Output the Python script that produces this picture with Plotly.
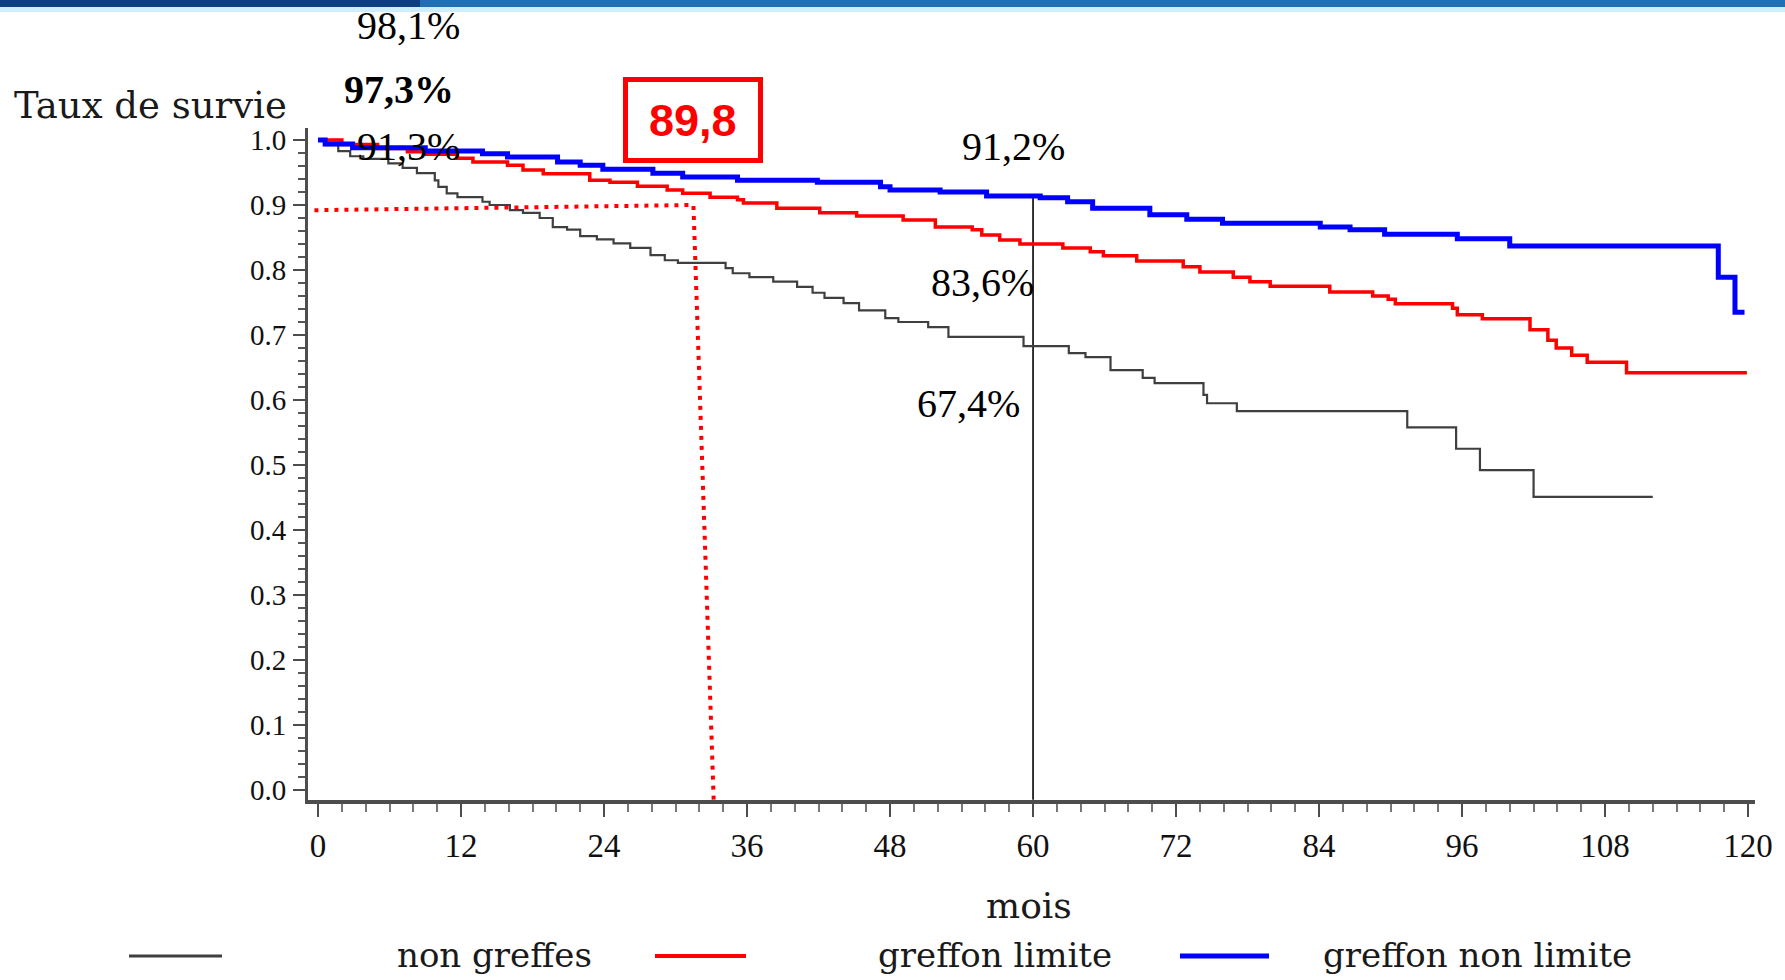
import plotly.graph_objects as go

# ---------------- data ----------------
gray_t = [0, 0.6, 1.7, 2.7, 3.8, 5.9, 7.1, 8.3, 9.8, 10.1, 10.8, 11.7, 13.8, 14.4, 16.1, 17.2, 18.6, 19.7,
          20.9, 22.0, 23.4, 24.8, 26.2, 27.9, 29.1, 30.2, 34.2, 34.8, 36.2, 38.2, 40.2, 41.5, 42.5, 44.1,
          45.4, 47.6, 48.7, 51.2, 52.9, 59.2, 63.0, 64.4, 66.5, 69.2, 70.2, 74.3, 74.6, 77.1, 91.4, 95.5,
          97.5, 102.0, 112.0]
gray_s = [1.0, 0.992, 0.983, 0.975, 0.971, 0.964, 0.957, 0.949, 0.938, 0.928, 0.918, 0.912, 0.905, 0.900,
          0.892, 0.888, 0.880, 0.866, 0.862, 0.852, 0.847, 0.841, 0.834, 0.823, 0.815, 0.811, 0.803, 0.795,
          0.789, 0.782, 0.774, 0.765, 0.757, 0.749, 0.738, 0.726, 0.720, 0.712, 0.697, 0.683, 0.672, 0.666,
          0.646, 0.634, 0.626, 0.608, 0.595, 0.583, 0.558, 0.525, 0.492, 0.451, 0.451]

red_t = [0, 2.0, 5.0, 7.5, 9.1, 11.7, 13.0, 15.9, 17.2, 18.9, 22.8, 24.5, 26.8, 29.3, 30.6, 32.9, 35.2,
         35.7, 38.5, 42.1, 45.2, 49.1, 51.8, 54.9, 55.7, 57.2, 58.9, 62.5, 64.8, 65.9, 68.7, 72.6, 74.0,
         76.8, 78.2, 79.9, 84.9, 88.5, 89.8, 90.4, 95.2, 95.6, 97.7, 101.7, 103.2, 103.9, 105.2, 106.5,
         109.8, 119.9]
red_s = [1.0, 0.993, 0.987, 0.982, 0.978, 0.972, 0.966, 0.961, 0.954, 0.948, 0.938, 0.935, 0.929, 0.923,
         0.918, 0.912, 0.908, 0.903, 0.895, 0.888, 0.883, 0.877, 0.866, 0.862, 0.854, 0.846, 0.840, 0.834,
         0.828, 0.822, 0.814, 0.805, 0.797, 0.789, 0.782, 0.775, 0.766, 0.760, 0.755, 0.748, 0.741, 0.731,
         0.725, 0.708, 0.692, 0.680, 0.669, 0.658, 0.642, 0.642]

blue_t = [0, 0.6, 2.9, 9.0, 13.8, 15.9, 20.1, 22.0, 23.9, 28.1, 30.6, 35.2, 41.9, 47.2, 48.0, 52.2, 56.1,
          60.6, 62.9, 65.0, 69.8, 72.9, 75.9, 84.1, 86.6, 89.5, 95.6, 100.0, 117.5, 118.9, 119.7]
blue_s = [1.0, 0.994, 0.988, 0.983, 0.979, 0.974, 0.966, 0.961, 0.955, 0.949, 0.943, 0.938, 0.935, 0.928,
          0.923, 0.920, 0.914, 0.911, 0.905, 0.895, 0.885, 0.878, 0.872, 0.866, 0.862, 0.855, 0.848, 0.837,
          0.789, 0.735, 0.735]

series_names = ["non greffes", "greffon limite", "greffon non limite"]

# reference lines
guide_x = [-0.3, 31.5, 33.2]
guide_y = [0.892, 0.900, -0.015]
marker60_x = [60, 60]
marker60_y = [0.912, -0.015]

x_ticks = [0, 12, 24, 36, 48, 60, 72, 84, 96, 108, 120]
y_ticks = [0.0, 0.1, 0.2, 0.3, 0.4, 0.5, 0.6, 0.7, 0.8, 0.9, 1.0]

labels_pct = ["98,1%", "97,3%", "91,3%", "91,2%", "83,6%", "67,4%"]
box_label = "89,8"

# ---------------- layout helpers ----------------
W, H = 1785, 980
L, R, T, B = 308, 30, 128, 180
PW, PH = W - L - R, H - T - B


def px(x):
    return (x - L) / PW


def py(y):
    return (H - B - y) / PH


SERIF = "Liberation Serif"
SERIF_W = "DejaVu Serif"

fig = go.Figure()

fig.add_trace(go.Scatter(x=guide_x, y=guide_y, mode="lines",
                         line=dict(color="#ff0000", width=4, dash="4px,6px"),
                         showlegend=False, hoverinfo="skip"))
fig.add_trace(go.Scatter(x=marker60_x, y=marker60_y, mode="lines",
                         line=dict(color="black", width=1.6),
                         showlegend=False, hoverinfo="skip"))
fig.add_trace(go.Scatter(x=gray_t, y=gray_s, mode="lines", line_shape="hv", name=series_names[0],
                         line=dict(color="#3f3f3f", width=2.2), showlegend=False))
fig.add_trace(go.Scatter(x=red_t, y=red_s, mode="lines", line_shape="hv", name=series_names[1],
                         line=dict(color="#ff0000", width=3.5), showlegend=False))
fig.add_trace(go.Scatter(x=blue_t, y=blue_s, mode="lines", line_shape="hv", name=series_names[2],
                         line=dict(color="#0000ff", width=5), showlegend=False))

annotations = []
# percentage labels
pct_pos = [(408, 25, False), (399, 89, True), (408, 146, False),
           (1013, 146, False), (982, 282, False), (968, 403, False)]
for txt, (xx, yy, bold) in zip(labels_pct, pct_pos):
    annotations.append(dict(x=px(xx), y=py(yy), xref="paper", yref="paper", showarrow=False,
                            text=f"<b>{txt}</b>" if bold else txt,
                            font=dict(family=SERIF, size=40, color="black"),
                            xanchor="center", yanchor="middle"))
# boxed value
annotations.append(dict(x=px(693), y=py(120), xref="paper", yref="paper", showarrow=False,
                        text=f"<b>{box_label}</b>",
                        font=dict(family="Liberation Sans", size=45, color="#ff0000"),
                        xanchor="center", yanchor="middle"))
# axis titles
annotations.append(dict(x=px(150), y=py(106), xref="paper", yref="paper", showarrow=False,
                        text="Taux de survie", font=dict(family=SERIF_W, size=37, color="#1a1a1a"),
                        xanchor="center", yanchor="middle"))
annotations.append(dict(x=px(1029), y=py(905), xref="paper", yref="paper", showarrow=False,
                        text="mois", font=dict(family=SERIF_W, size=36, color="#1a1a1a"),
                        xanchor="center", yanchor="middle"))
# legend texts
leg_text_x = [494, 995, 1477]
for name, xx in zip(series_names, leg_text_x):
    annotations.append(dict(x=px(xx), y=py(955), xref="paper", yref="paper", showarrow=False,
                            text=name, font=dict(family=SERIF_W, size=34, color="#1a1a1a"),
                            xanchor="center", yanchor="middle"))

shapes = []
# top banner
shapes.append(dict(type="rect", xref="paper", yref="paper", x0=px(0), x1=px(W), y0=py(7), y1=py(0),
                   line_width=0, fillcolor="#1f6fb4", layer="below"))
shapes.append(dict(type="rect", xref="paper", yref="paper", x0=px(0), x1=px(420), y0=py(7), y1=py(0),
                   line_width=0, fillcolor="#0d3f80", layer="below"))
shapes.append(dict(type="rect", xref="paper", yref="paper", x0=px(0), x1=px(W), y0=py(12), y1=py(7),
                   line_width=0, fillcolor="#cdeefa", layer="below"))
# box round 89,8
shapes.append(dict(type="rect", xref="paper", yref="paper", x0=px(625.5), x1=px(760.5),
                   y0=py(160.5), y1=py(79.5), line=dict(color="#ff0000", width=5)))
# legend lines
leg_lines = [(129, 222, "#3f3f3f", 3), (655, 746, "#ff0000", 4), (1180, 1269, "#0000ff", 5)]
for x0, x1, c, w in leg_lines:
    shapes.append(dict(type="line", xref="paper", yref="paper", x0=px(x0), x1=px(x1),
                       y0=py(956), y1=py(956), line=dict(color=c, width=w)))

axis_col = "#4d4d4d"
fig.update_layout(
    width=W, height=H,
    margin=dict(l=L, r=R, t=T, b=B, pad=0),
    paper_bgcolor="white", plot_bgcolor="white",
    annotations=annotations, shapes=shapes,
    showlegend=False,
    xaxis=dict(range=[-0.84, 120.58], tickvals=x_ticks, ticktext=[str(v) for v in x_ticks],
               showgrid=False, zeroline=False, showline=True, linecolor=axis_col, linewidth=4,
               ticks="outside", ticklen=13, tickwidth=2, tickcolor=axis_col,
               minor=dict(dtick=2, tick0=0, ticks="outside", ticklen=8, tickwidth=2, tickcolor="#777"),
               tickfont=dict(family=SERIF, size=33, color="#111"), ticklabelstandoff=0),
    yaxis=dict(range=[-0.01538, 1.01846], tickvals=y_ticks, ticktext=[f"{v:.1f}" for v in y_ticks],
               showgrid=False, zeroline=False, showline=True, linecolor=axis_col, linewidth=3,
               ticks="outside", ticklen=12, tickwidth=2, tickcolor=axis_col,
               minor=dict(dtick=0.02, tick0=0, ticks="outside", ticklen=7, tickwidth=2, tickcolor="#555"),
               tickfont=dict(family=SERIF, size=29, color="#111"), ticklabelstandoff=1),
)

fig.write_html("out.html", config={"displayModeBar": False},
               post_script="document.body.style.margin='0';document.body.style.overflow='hidden';")
